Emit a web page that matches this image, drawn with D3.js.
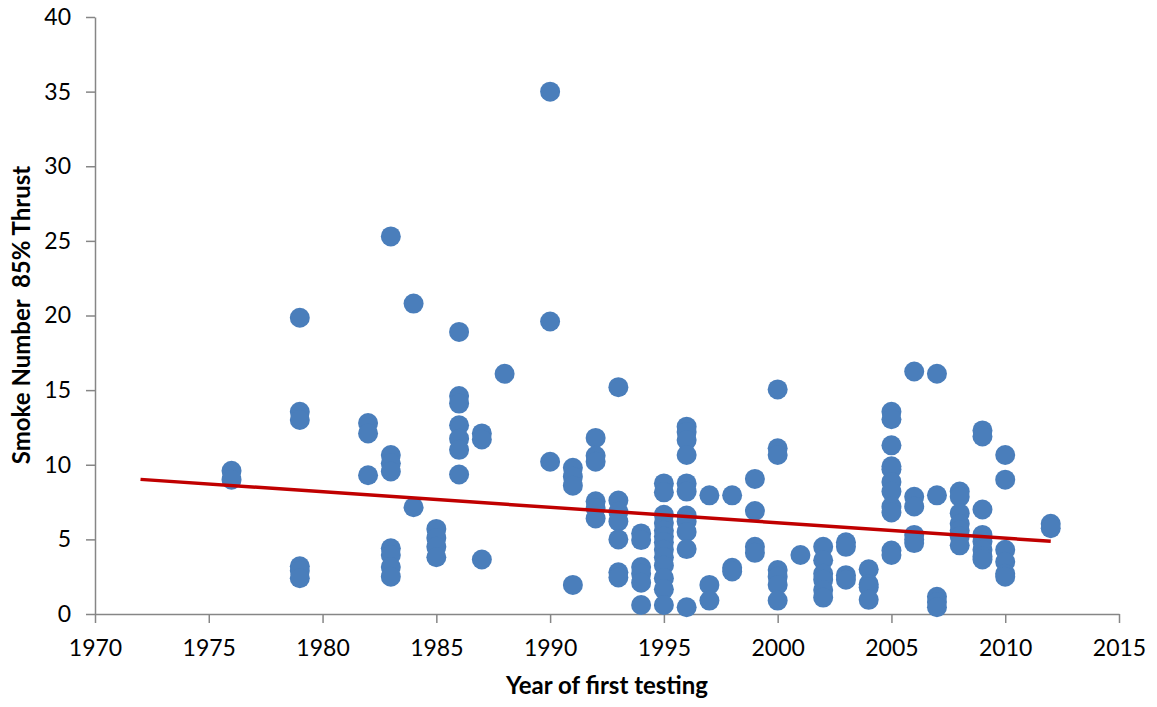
<!DOCTYPE html>
<html>
<head>
<meta charset="utf-8">
<script src="https://cdn.jsdelivr.net/npm/d3@7"></script>
<style>
  body { margin: 0; background: #fff; }
  .axis path, .axis line { stroke: #868686; stroke-width: 1.5; }
  .axis text { font-family: Lato, "Open Sans", sans-serif; font-size: 23px; fill: #000; }
  .title { font-family: Lato, "Open Sans", sans-serif; font-size: 24px; font-weight: bold; white-space: pre; }
</style>
</head>
<body>
<script>
//values
var testYears = [1976, 1979, 1982, 1983, 1984, 1985, 1986, 1987, 1988, 1990,
  1991, 1992, 1993, 1994, 1995, 1996, 1997, 1998, 1999, 2000,
  2001, 2002, 2003, 2004, 2005, 2006, 2007, 2008, 2009, 2010, 2012];

var smokeByYear = [
  [9.6, 9.0],
  [19.85, 13.55, 13.0, 3.2, 2.9, 2.4],
  [12.8, 12.1, 9.3],
  [25.3, 10.65, 10.1, 9.55, 4.4, 3.95, 3.15, 2.5],
  [20.8, 7.15],
  [5.7, 5.1, 4.5, 3.8],
  [18.9, 14.6, 14.1, 12.65, 11.75, 11.0, 9.35],
  [12.1, 11.7, 3.65],
  [16.1],
  [35.0, 19.6, 10.2],
  [9.8, 9.2, 8.6, 1.95],
  [11.8, 10.6, 10.2, 7.55, 7.1, 6.4],
  [15.2, 7.6, 6.85, 6.2, 5.0, 2.8, 2.45],
  [5.4, 4.95, 3.15, 2.7, 2.1, 0.6],
  [8.75, 8.15, 6.65, 6.1, 5.6, 5.2, 4.8, 4.3, 3.8, 3.25, 2.4, 1.65, 0.6],
  [12.55, 12.2, 11.65, 10.65, 8.75, 8.2, 6.6, 6.2, 5.5, 4.35, 0.45],
  [7.95, 1.95, 0.9],
  [7.95, 3.1, 2.85],
  [9.05, 6.9, 4.5, 4.1],
  [15.05, 11.1, 10.65, 2.95, 2.5, 1.95, 0.9],
  [3.95],
  [4.5, 3.6, 2.7, 2.3, 1.6, 1.1],
  [4.8, 4.5, 2.6, 2.3],
  [3.0, 2.0, 1.8, 0.95],
  [13.55, 13.05, 11.3, 9.9, 9.7, 8.85, 8.2, 7.2, 6.8, 4.25, 3.95],
  [16.25, 7.85, 7.2, 5.3, 5.0, 4.75],
  [16.1, 7.95, 1.15, 0.8, 0.45],
  [8.2, 7.85, 6.75, 6.05, 5.6, 5.2, 4.6],
  [12.3, 11.9, 7.0, 5.3, 4.85, 4.3, 3.85, 3.65],
  [10.65, 9.0, 4.3, 3.5, 2.7, 2.5],
  [6.05, 5.75]
];

//linear trend line end points
var trendYears = [1972, 2012];
var trendValues = [9.02, 4.87];

var xTicks = [1970, 1975, 1980, 1985, 1990, 1995, 2000, 2005, 2010, 2015];
var yTicks = [0, 5, 10, 15, 20, 25, 30, 35, 40];

var margin = {top: 17, right: 38, bottom: 93, left: 95},
  width = 1157 - margin.left - margin.right,
  height = 707 - margin.top - margin.bottom;

var points = [];
testYears.forEach(function(yr, i) {
  smokeByYear[i].forEach(function(v) { points.push({year: yr, smoke: v}); });
});

var x = d3.scaleLinear().domain([1970, 2015]).range([0, width]);
var y = d3.scaleLinear().domain([0, 40]).range([height, 0]);

var svg = d3.select("body").append("svg")
    .attr("width", 1157)
    .attr("height", 707)
  .append("g")
    .attr("transform", "translate(" + margin.left + "," + margin.top + ")");

//x axis
svg.append("g")
  .attr("class", "axis")
  .attr("transform", "translate(0," + height + ")")
  .call(d3.axisBottom(x).tickValues(xTicks).tickFormat(d3.format("d")).tickSize(9).tickSizeOuter(0).tickPadding(17));

//y axis
svg.append("g")
  .attr("class", "axis")
  .call(d3.axisLeft(y).tickValues(yTicks).tickSize(9).tickSizeOuter(0).tickPadding(15));

//dots
svg.selectAll(".dot")
  .data(points)
  .enter().append("circle")
  .attr("class", "dot")
  .attr("cx", function(d) { return x(d.year); })
  .attr("cy", function(d) { return y(d.smoke); })
  .attr("r", 10)
  .style("fill", "#4a7ebb");

//trend line
var trendLine = d3.line()
  .x(function(d) { return x(d[0]); })
  .y(function(d) { return y(d[1]); });

svg.append("path")
  .datum(d3.zip(trendYears, trendValues))
  .attr("d", trendLine)
  .style("fill", "none")
  .style("stroke", "#c00000")
  .style("stroke-width", 3.5);

//axis titles
svg.append("text")
  .attr("class", "title")
  .attr("x", 607 - margin.left)
  .attr("y", height + 80)
  .style("text-anchor", "middle")
  .text("Year of first testing");

svg.append("text")
  .attr("class", "title")
  .attr("transform", "rotate(-90)")
  .attr("x", 0 - (315 - margin.top))
  .attr("y", 30 - margin.left)
  .style("text-anchor", "middle")
  .text("Smoke Number  85% Thrust");
</script>
</body>
</html>
